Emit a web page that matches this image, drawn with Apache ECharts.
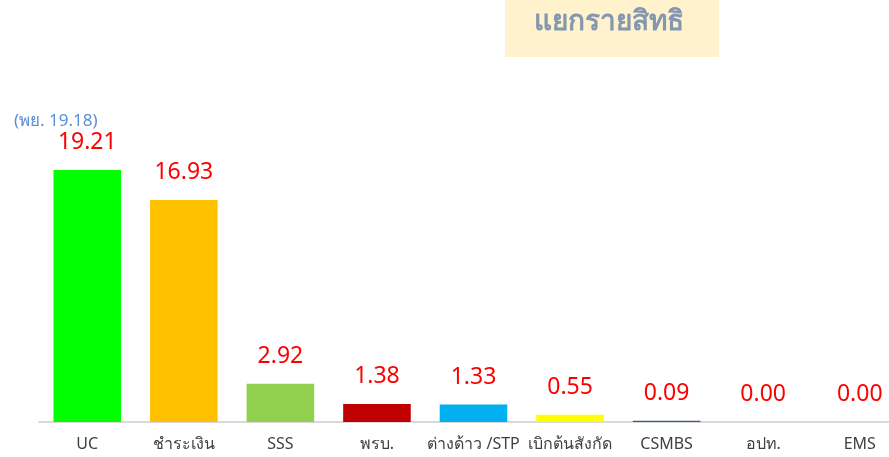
<!DOCTYPE html>
<html>
<head>
<meta charset="utf-8">
<script src="https://cdn.jsdelivr.net/npm/echarts@6/dist/echarts.min.js"></script>
<style>
  html, body { margin: 0; padding: 0; background: #fff; }
  #chart { width: 889px; height: 457px; }
</style>
</head>
<body>
<div id="chart"></div>
<script>
// data
const categories = ['UC', 'ชำระเงิน', 'SSS', 'พรบ.', 'ต่างด้าว /STP', 'เบิกต้นสังกัด', 'CSMBS', 'อปท.', 'EMS'];
const values = [19.21, 16.93, 2.92, 1.38, 1.33, 0.55, 0.09, 0.00, 0.00];
const barColors = ['#00ff00', '#ffc000', '#92d050', '#c00000', '#00b0f0', '#ffff00', '#2f5f98', '#a5a5a5', '#a5a5a5'];
const titleText = 'แยกรายสิทธิ';
const noteText = '(พย. 19.18)';

const chart = echarts.init(document.getElementById('chart'));

chart.setOption({
    animation: false,
    textStyle: { fontFamily: '"Noto Sans", sans-serif' },
    graphic: [
        {
            type: 'rect',
            left: 505,
            top: 0,
            shape: { width: 214, height: 57 },
            style: { fill: '#fff2cc' },
            z: 0
        },
        {
            type: 'text',
            left: 534,
            top: 8,
            style: {
                text: titleText,
                fill: '#8497b0',
                font: 'bold 28px "Noto Sans", sans-serif'
            },
            z: 1
        },
        {
            type: 'text',
            left: 14,
            top: 113,
            style: {
                text: noteText,
                fill: '#5b8fd6',
                font: '17px "Noto Sans", sans-serif'
            }
        }
    ],
    grid: {
        left: 39,
        right: -19,
        top: 94,
        bottom: 35,
        containLabel: false,
        outerBoundsMode: 'none'
    },
    xAxis: {
        type: 'category',
        data: categories,
        axisLine: { lineStyle: { color: '#d9d9d9', width: 2 } },
        axisTick: { show: false },
        axisLabel: {
            color: '#404040',
            fontSize: 16,
            margin: 14,
            interval: 0
        }
    },
    yAxis: {
        type: 'value',
        min: 0,
        max: 25,
        show: false,
        splitLine: { show: false }
    },
    series: [
        {
            type: 'bar',
            barWidth: '70%',
            data: values.map((v, i) => ({
                value: v,
                itemStyle: { color: barColors[i] }
            })),
            label: {
                show: true,
                position: 'top',
                distance: 16,
                color: '#ff0000',
                fontSize: 23,
                formatter: p => p.value.toFixed(2)
            }
        }
    ]
});
</script>
</body>
</html>
